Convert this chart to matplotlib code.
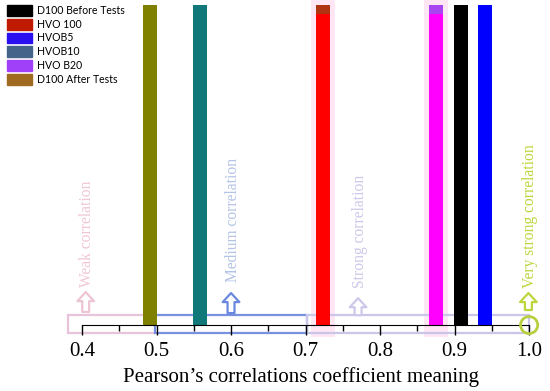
import matplotlib
matplotlib.use('Agg')
import matplotlib.pyplot as plt
from matplotlib.patches import Patch, Rectangle, Ellipse

# bars (position on the correlation scale)
bar_names = ['D100 After Tests', 'HVOB10', 'HVO 100', 'HVO B20', 'D100 Before Tests', 'HVOB5']
bar_values = [0.491, 0.558, 0.7235, 0.875, 0.909, 0.941]
bar_colors = ['#808000', '#107878', '#ff0000', '#ff00ff', '#000000', '#0000ff']

# legend as in the original picture
legend_names = ['D100 Before Tests', 'HVO 100', 'HVOB5', 'HVOB10', 'HVO B20', 'D100 After Tests']
legend_colors = ['#000000', '#c01a00', '#2a10f0', '#44648a', '#a040f8', '#a06a20']

# correlation classes
class_names = ['Weak correlation', 'Medium correlation', 'Strong correlation', 'Very strong correlation']
class_x = [0.405, 0.600, 0.7705, 0.999]
class_colors = ['#f0c6d6', '#b4c4e6', '#ccc8ea', '#bcd63c']
arrow_colors = ['#ecc4d4', '#6a88e0', '#ccc8ea', '#bcd63c']
ranges = [(0.381, 0.498), (0.498, 0.702), (0.702, 1.0)]
range_colors = ['#e8c4da', '#7890e0', '#cac6ea']

ticks = [0.4, 0.5, 0.6, 0.7, 0.8, 0.9, 1.0]
minor_ticks = [0.45, 0.55, 0.65, 0.75, 0.85, 0.95]

fig = plt.figure(figsize=(5.5, 3.91), dpi=100)
ax = fig.add_axes([0, 0, 1, 1])
ax.set_xlim(0.290, 1.028)
ax.set_ylim(-0.206, 1.0156)

# light pink halos around two of the bars
for v in [bar_values[2], bar_values[3]]:
    ax.add_patch(Rectangle((v - 0.0165, -0.038), 0.033, 1.06, color='#fee6f4', zorder=0, lw=0))

for (a, b), c in zip(ranges, range_colors):
    ax.add_patch(Rectangle((a, -0.025), b - a, 0.056, fill=False, ec=c, lw=1.6, zorder=1))

ax.bar(bar_values, 1.0, width=0.019, color=bar_colors, zorder=2)
# darker caps on red / magenta bars
ax.bar([bar_values[2], bar_values[3]], 0.028, bottom=0.972, width=0.019,
       color=['#b03412', '#a844f0'], zorder=3)

text_bottom = [0.119, 0.134, 0.116, 0.116]
arrow_bot = [0.041, 0.0375, 0.031, 0.047]
arrow_top = [0.103, 0.100, 0.084, 0.100]
for i in range(4):
    ax.text(class_x[i] + 0.002, text_bottom[i], class_names[i], rotation=90,
            ha='center', va='bottom', color=class_colors[i],
            family='Liberation Serif', fontsize=11.2)
    ax.annotate('', xy=(class_x[i], arrow_top[i]), xytext=(class_x[i], arrow_bot[i]),
                arrowprops=dict(arrowstyle='simple,head_length=0.65,head_width=1.2,tail_width=0.5',
                                fc='white', ec=arrow_colors[i], lw=1.6,
                                shrinkA=0, shrinkB=0), zorder=4)

ax.add_patch(Ellipse((1.0, 0), 0.023, 0.053, fill=False, ec='#b8d040', lw=2, zorder=5))

for s in ['left', 'right', 'top']:
    ax.spines[s].set_visible(False)
ax.spines['bottom'].set_position(('data', 0))
ax.spines['bottom'].set_bounds(0.4, 1.0)
ax.spines['bottom'].set_zorder(3)
ax.set_yticks([])
ax.set_xticks(ticks)
ax.set_xticklabels(['{:.1f}'.format(t) for t in ticks], family='Liberation Serif', fontsize=15)
ax.set_xticks(minor_ticks, minor=True)
ax.tick_params(axis='x', which='major', length=7, width=1, pad=5)
ax.tick_params(axis='x', which='minor', length=4, width=1)

ax.set_xlabel('Pearson\u2019s correlations coefficient meaning', family='Liberation Serif', fontsize=15)
ax.xaxis.set_label_coords(0.548, 0.036)
ax.xaxis.label.set_va('center')

handles = [Patch(color=c) for c in legend_colors]
ax.legend(handles, legend_names, loc='upper left', bbox_to_anchor=(7 / 550, 1 - 5 / 391),
          frameon=False, borderpad=0, borderaxespad=0,
          handlelength=2.4, handleheight=1.2, labelspacing=0.26, handletextpad=0.45,
          prop={'family': 'Lato', 'size': 7.6})

plt.savefig('out.png', dpi=100)
